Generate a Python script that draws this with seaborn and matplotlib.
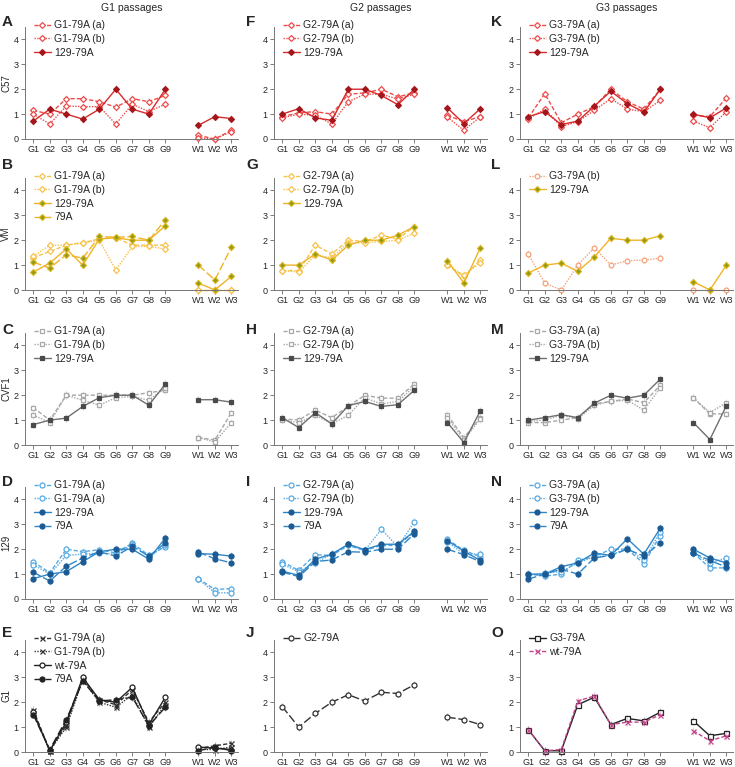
import numpy as np
import pandas as pd
import matplotlib
matplotlib.use("Agg")
import matplotlib.pyplot as plt
import seaborn as sns

passages = ["G1", "G2", "G3", "G4", "G5", "G6", "G7", "G8", "G9"]
washouts = ["W1", "W2", "W3"]
tick_labels = passages + washouts
col_titles = ["G1 passages", "G2 passages", "G3 passages"]
row_labels = ["C57", "VM", "CVF1", "129", "G1"]

# C57
A_a = [1.15, 1.0, 1.62, 1.62, 1.5, 1.28, 1.62, 1.5, 1.75, 0.15, 0.0, 0.35]
A_b = [1.0, 0.6, 1.33, 1.3, 1.3, 0.6, 1.4, 1.1, 1.4, 0.05, 0.0, 0.3]
A_129 = [0.72, 1.2, 1.0, 0.8, 1.2, 2.0, 1.2, 1.0, 2.0, 0.55, 0.9, 0.82]
F_a = [0.9, 1.05, 1.1, 1.0, 1.8, 1.85, 2.0, 1.7, 1.85, 0.95, 0.7, 0.9]
F_b = [0.85, 1.0, 0.95, 0.6, 1.5, 1.8, 1.8, 1.6, 1.8, 0.88, 0.35, 0.9]
F_129 = [1.0, 1.22, 0.85, 0.75, 2.0, 2.0, 1.75, 1.38, 2.0, 1.25, 0.62, 1.22]
K_a = [0.85, 1.82, 0.65, 1.0, 1.3, 2.0, 1.5, 1.2, 2.0, 0.95, 0.9, 1.65]
K_b = [0.8, 1.2, 0.5, 0.7, 1.15, 1.62, 1.2, 1.1, 1.55, 0.72, 0.45, 1.1]
K_129 = [0.9, 1.1, 0.58, 0.72, 1.32, 1.92, 1.42, 1.08, 2.0, 1.0, 0.85, 1.25]

# VM
B_a = [1.3, 1.55, 1.8, 1.9, 2.05, 2.1, 1.8, 1.8, 1.8, 0.0, 0.0, 0.0]
B_b = [1.35, 1.8, 1.8, 1.9, 2.0, 0.8, 1.75, 1.75, 1.65, 0.0, 0.0, 0.0]
B_129 = [0.72, 1.08, 1.65, 1.0, 2.05, 2.1, 2.0, 2.0, 2.58, 0.28, 0.0, 0.55]
B_79 = [1.12, 0.88, 1.42, 1.28, 2.15, 2.12, 2.15, 2.0, 2.82, 1.0, 0.4, 1.72]
G_a = [0.78, 0.78, 1.8, 1.45, 2.0, 1.95, 2.2, 2.05, 2.55, 1.0, 0.55, 1.2]
G_b = [0.78, 0.72, 1.4, 1.3, 1.9, 1.9, 1.95, 2.0, 2.28, 1.0, 0.6, 1.1]
G_129 = [1.0, 1.0, 1.45, 1.2, 1.8, 2.0, 2.0, 2.2, 2.55, 1.18, 0.28, 1.7]
L_b = [1.45, 0.28, 0.0, 1.0, 1.7, 1.0, 1.18, 1.2, 1.28, 0.0, 0.0, 0.0]
L_129 = [0.68, 1.0, 1.08, 0.75, 1.33, 2.08, 2.0, 2.0, 2.18, 0.33, 0.0, 1.0]

# CVF1
C_a = [1.5, 1.0, 2.0, 2.0, 2.0, 2.0, 2.0, 2.1, 2.2, 0.3, 0.2, 1.3]
C_b = [1.2, 0.9, 2.0, 1.8, 1.6, 1.9, 1.95, 1.8, 2.3, 0.3, 0.12, 0.9]
C_129 = [0.82, 1.0, 1.08, 1.55, 1.9, 2.0, 2.0, 1.6, 2.45, 1.82, 1.82, 1.72]
H_a = [1.05, 1.0, 1.4, 1.1, 1.55, 2.0, 1.88, 1.88, 2.45, 1.2, 0.3, 1.1]
H_b = [1.0, 0.9, 1.2, 0.85, 1.2, 1.9, 1.65, 1.75, 2.35, 1.1, 0.2, 1.05]
H_129 = [1.1, 0.7, 1.3, 0.85, 1.58, 1.75, 1.55, 1.62, 2.2, 0.9, 0.1, 1.38]
M_a = [0.9, 0.9, 1.0, 1.1, 1.65, 1.75, 1.85, 1.7, 2.4, 1.9, 1.25, 1.25]
M_b = [0.95, 1.0, 1.2, 1.05, 1.6, 1.75, 1.8, 1.4, 2.3, 1.9, 1.3, 1.7]
M_129 = [1.0, 1.1, 1.22, 1.1, 1.68, 2.0, 1.88, 2.0, 2.65, 0.9, 0.22, 1.58]

# 129
D_a = [1.5, 1.05, 2.0, 1.9, 1.98, 1.85, 2.25, 1.75, 2.1, 0.82, 0.38, 0.42]
D_a2 = [1.38, 1.0, 1.75, 1.8, 1.85, 1.8, 2.2, 1.7, 2.15, 0.8, 0.25, 0.25]
D_129 = [0.82, 1.0, 1.1, 1.5, 1.9, 2.0, 2.0, 1.6, 2.45, 1.82, 1.8, 1.72]
D_79 = [1.08, 0.72, 1.32, 1.65, 1.9, 1.72, 2.12, 1.72, 2.25, 1.88, 1.62, 1.45]
I_a = [1.5, 1.15, 1.78, 1.75, 2.15, 1.95, 2.15, 2.15, 2.7, 2.4, 1.95, 1.7]
I_b = [1.4, 1.1, 1.45, 1.8, 2.2, 1.95, 2.8, 2.1, 3.1, 2.3, 1.8, 1.8]
I_129 = [1.12, 0.95, 1.6, 1.8, 2.2, 1.98, 2.2, 2.2, 2.72, 2.35, 1.92, 1.55]
I_79 = [1.08, 0.9, 1.5, 1.57, 1.9, 1.88, 2.0, 2.0, 2.62, 2.0, 1.78, 1.5]
N_a = [1.0, 0.92, 1.0, 1.55, 1.7, 2.0, 2.0, 1.42, 2.55, 1.85, 1.25, 1.25]
N_b = [0.95, 1.05, 1.1, 1.45, 1.7, 1.75, 2.05, 1.55, 2.7, 1.85, 1.45, 1.65]
N_129 = [1.0, 1.0, 1.3, 1.45, 1.85, 1.75, 2.42, 1.8, 2.85, 2.0, 1.65, 1.45]
N_79 = [0.8, 1.0, 1.2, 1.0, 1.65, 1.75, 2.0, 1.72, 2.25, 1.85, 1.55, 1.28]

# G1
E_a = [1.7, 0.05, 1.1, 2.95, 2.1, 1.9, 2.5, 1.2, 2.0, 0.15, 0.25, 0.35]
E_b = [1.55, 0.05, 1.0, 2.9, 2.0, 1.8, 2.3, 1.0, 1.9, 0.1, 0.1, 0.2]
E_wt = [1.6, 0.05, 1.2, 3.0, 2.1, 2.0, 2.6, 1.1, 2.2, 0.2, 0.15, 0.1]
E_79 = [1.5, 0.1, 1.3, 2.85, 2.05, 2.1, 2.2, 1.05, 1.8, 0.05, 0.2, 0.05]
J_g2 = [1.82, 1.0, 1.55, 2.0, 2.3, 2.05, 2.4, 2.35, 2.7, 1.4, 1.3, 1.1]
O_g3 = [0.9, 0.05, 0.05, 1.9, 2.2, 1.1, 1.35, 1.25, 1.6, 1.25, 0.65, 0.75]
O_wt = [0.9, 0.05, 0.1, 2.05, 2.25, 1.1, 1.2, 1.2, 1.5, 0.85, 0.45, 0.65]

ERR = 0.15

# x positions: passages, one gap, then washouts
x_pos = np.r_[np.arange(len(passages)), np.arange(len(washouts)) + len(passages) + 1]
segment = ["G"] * len(passages) + ["W"] * len(washouts)

DASH = (0, (3, 1.5))
DOT = (0, (1, 1))
LONG = (0, (6, 2))

# per-row colours: light (open), line (filled), face (filled marker), marker
rows = {
    "red": dict(light="#ee4b4b", line="#d92a2a", face="#a3161c", edge="#a3161c", m="D", ms=3.0),
    "yel": dict(light="#f7c24a", line="#f0b428", face="#8c9a1a", edge="#d9b41c", m="D", ms=3.0),
    "gry": dict(light="#a8a8a8", line="#707070", face="#4a4a4a", edge="#4a4a4a", m="s", ms=3.4),
    "blu": dict(light="#56aae3", line="#2f86c8", face="#1c5a94", edge="#1c5a94", m="o", ms=3.6),
}


def style(row, kind):
    p = rows[row]
    base = dict(marker=p["m"], ms=p["ms"])
    if kind == "a":
        return dict(base, color=p["light"], ls=DASH, mfc="white", mec=p["light"])
    if kind == "b":
        return dict(base, color=p["light"], ls=DOT, mfc="white", mec=p["light"])
    if kind == "wt":
        return dict(base, color=p["line"], ls="-", mfc=p["face"], mec=p["edge"])
    return dict(base, color=p["line"], ls=LONG, mfc=p["face"], mec=p["edge"])


def black(color, ls, marker, mfc):
    return dict(color=color, ls=ls, marker=marker, ms=3.6, mfc=mfc, mec=color)


panels = [
    ("A", 0, 0, [("G1-79A (a)", A_a, style("red", "a")), ("G1-79A (b)", A_b, style("red", "b")),
                 ("129-79A", A_129, style("red", "wt"))]),
    ("F", 0, 1, [("G2-79A (a)", F_a, style("red", "a")), ("G2-79A (b)", F_b, style("red", "b")),
                 ("129-79A", F_129, style("red", "wt"))]),
    ("K", 0, 2, [("G3-79A (a)", K_a, style("red", "a")), ("G3-79A (b)", K_b, style("red", "b")),
                 ("129-79A", K_129, style("red", "wt"))]),
    ("B", 1, 0, [("G1-79A (a)", B_a, style("yel", "a")), ("G1-79A (b)", B_b, style("yel", "b")),
                 ("129-79A", B_129, style("yel", "wt")), ("79A", B_79, style("yel", "79"))]),
    ("G", 1, 1, [("G2-79A (a)", G_a, style("yel", "a")), ("G2-79A (b)", G_b, style("yel", "b")),
                 ("129-79A", G_129, style("yel", "wt"))]),
    ("L", 1, 2, [("G3-79A (b)", L_b, dict(color="#f4a27a", ls=DOT, marker="o", ms=3.4, mfc="white", mec="#f4a27a")),
                 ("129-79A", L_129, style("yel", "wt"))]),
    ("C", 2, 0, [("G1-79A (a)", C_a, style("gry", "a")), ("G1-79A (b)", C_b, style("gry", "b")),
                 ("129-79A", C_129, style("gry", "wt"))]),
    ("H", 2, 1, [("G2-79A (a)", H_a, style("gry", "a")), ("G2-79A (b)", H_b, style("gry", "b")),
                 ("129-79A", H_129, style("gry", "wt"))]),
    ("M", 2, 2, [("G3-79A (a)", M_a, style("gry", "a")), ("G3-79A (b)", M_b, style("gry", "b")),
                 ("129-79A", M_129, style("gry", "wt"))]),
    ("D", 3, 0, [("G1-79A (a)", D_a, style("blu", "a")), ("G1-79A (a)", D_a2, style("blu", "b")),
                 ("129-79A", D_129, style("blu", "wt")), ("79A", D_79, style("blu", "79"))]),
    ("I", 3, 1, [("G2-79A (a)", I_a, style("blu", "a")), ("G2-79A (b)", I_b, style("blu", "b")),
                 ("129-79A", I_129, style("blu", "wt")), ("79A", I_79, style("blu", "79"))]),
    ("N", 3, 2, [("G3-79A (a)", N_a, style("blu", "a")), ("G3-79A (b)", N_b, style("blu", "b")),
                 ("129-79A", N_129, style("blu", "wt")), ("79A", N_79, style("blu", "79"))]),
    ("E", 4, 0, [("G1-79A (a)", E_a, black("#333333", DASH, "x", "none")),
                 ("G1-79A (b)", E_b, black("#333333", DOT, "x", "none")),
                 ("wt-79A", E_wt, black("#222222", "-", "o", "white")),
                 ("79A", E_79, black("#222222", LONG, "o", "#222222"))]),
    ("J", 4, 1, [("G2-79A", J_g2, black("#333333", LONG, "o", "white"))]),
    ("O", 4, 2, [("G3-79A", O_g3, black("#222222", "-", "s", "white")),
                 ("wt-79A", O_wt, black("#c2478a", DASH, "x", "none"))]),
]

sns.set_style("ticks")
plt.rcParams["font.family"] = ["Liberation Sans", "DejaVu Sans"]

W, H = 735, 767
fig = plt.figure(figsize=(W / 100, H / 100), dpi=100)

col_left = [25, 274, 520]
row_zero = [139, 290, 445, 599, 752]
letter_y = [22, 165, 330, 482, 633]
letter_x = [2, 246, 491]
ax_w, ax_h = 213, 112

for letter, r, c, series in panels:
    ax = fig.add_axes([col_left[c] / W, 1 - row_zero[r] / H, ax_w / W, ax_h / H])
    leg_handles, leg_labels = [], []
    for label, vals, st in series:
        df = pd.DataFrame({"pos": x_pos, "value": vals, "seg": segment})
        ax.errorbar(df["pos"], df["value"], yerr=ERR, fmt="none", ecolor=st["color"],
                    alpha=0.3, elinewidth=0.8, capsize=0)
        sns.lineplot(data=df, x="pos", y="value", units="seg", estimator=None, ax=ax,
                     color=st["color"], linestyle=st["ls"], linewidth=1.0,
                     marker=st["marker"], markersize=st["ms"], markerfacecolor=st["mfc"],
                     markeredgecolor=st["mec"], markeredgewidth=0.9,
                     legend=False, clip_on=False)
        leg_handles.append(ax.lines[-1])
        leg_labels.append(label)
    ax.legend(leg_handles, leg_labels, loc="upper left",
              bbox_to_anchor=(0.04, 1.06), frameon=False, fontsize=7.5, handlelength=1.7,
              handletextpad=0.3, labelspacing=0.35, borderpad=0, borderaxespad=0)
    ax.set_xlim(-0.5, 12.4)
    ax.set_ylim(0, 4.5)
    ax.set_xticks(x_pos)
    ax.set_xticklabels(tick_labels)
    ax.set_yticks([0, 1, 2, 3, 4])
    ax.tick_params(labelsize=6.5, length=3, width=0.6, color="#666666", pad=1.5)
    for sp in ["left", "bottom"]:
        ax.spines[sp].set_linewidth(0.7)
        ax.spines[sp].set_color("#777777")
    sns.despine(ax=ax)
    ax.set_xlabel("")
    if c == 0:
        ax.set_ylabel(row_labels[r], fontsize=7)
        ax.yaxis.set_label_coords(-0.065, 0.5)
    else:
        ax.set_ylabel("")
    fig.text(letter_x[c] / W, 1 - letter_y[r] / H, letter, fontsize=11, fontweight="bold",
             ha="left", va="center")

for c, title in enumerate(col_titles):
    fig.text((col_left[c] + ax_w / 2) / W, 1 - 8 / H, title, fontsize=7.5, ha="center", va="center")

fig.savefig("out.png", dpi=100)
